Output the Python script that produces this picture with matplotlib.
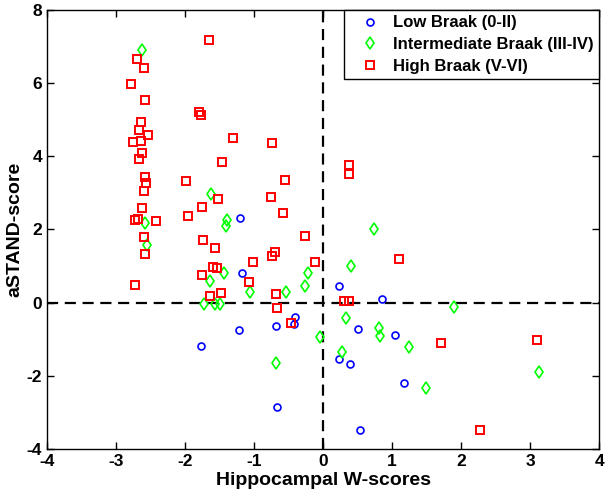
import matplotlib
matplotlib.use('Agg')
import matplotlib.pyplot as plt

plt.rcParams['font.family'] = ['Liberation Sans', 'DejaVu Sans']
plt.rcParams['axes.unicode_minus'] = False

# Low Braak (0-II)
low_x = [-1.20, -1.18, 0.23, 0.86, -0.41, -0.42, -1.22, -0.68, 0.51, 1.04,
         -1.77, 0.23, 0.39, 1.17, -0.67, 0.53]
low_y = [2.30, 0.81, 0.46, 0.10, -0.38, -0.58, -0.74, -0.65, -0.73, -0.89,
         -1.19, -1.55, -1.68, -2.19, -2.86, -3.48]

# Intermediate Braak (III-IV)
mid_x = [-2.63, -2.58, -2.55, -1.62, -1.39, -1.41, 0.74, -1.43, -0.22, -1.64,
         0.41, -0.26, -1.06, -0.54, -1.73, -1.56, -1.49, 0.33, 0.81, 0.83,
         -0.05, 0.28, -0.68, 1.25, 3.13, 1.49, 1.90]
mid_y = [6.90, 2.17, 1.57, 2.97, 2.26, 2.10, 2.02, 0.82, 0.81, 0.60,
         0.99, 0.45, 0.29, 0.29, -0.04, -0.04, -0.04, -0.41, -0.70, -0.91,
         -0.95, -1.35, -1.64, -1.21, -1.89, -2.32, -0.12]

# High Braak (V-VI)
high_x = [-2.70, -2.59, -2.78, -2.58, -1.65, -1.80, -1.77, -2.64, -2.66, -2.54,
          -2.75, -2.64, -2.62, -2.66, -1.30, -0.74, -1.47, 0.37, 0.37, -2.58,
          -2.56, -2.59, -1.99, -0.55, -1.52, -0.75, -2.63, -1.75, -1.95, -0.58,
          -2.72, -2.68, -2.42, -0.26, -2.60, -1.74, -1.57, -0.69, -0.74, -2.58,
          1.10, -1.02, -0.11, -1.60, -1.53, -2.72, -1.75, -1.08, -1.48, -1.64,
          -0.68, 0.31, 0.38, -0.66, -0.47, 1.71, 3.10, 2.28]
high_y = [6.66, 6.41, 5.97, 5.54, 7.17, 5.20, 5.14, 4.94, 4.71, 4.58,
          4.38, 4.41, 4.08, 3.93, 4.51, 4.35, 3.85, 3.75, 3.51, 3.44,
          3.26, 3.04, 3.32, 3.34, 2.84, 2.90, 2.60, 2.61, 2.37, 2.44,
          2.26, 2.28, 2.24, 1.81, 1.80, 1.71, 1.50, 1.39, 1.28, 1.34,
          1.18, 1.11, 1.11, 0.98, 0.94, 0.48, 0.76, 0.56, 0.26, 0.18,
          0.23, 0.05, 0.05, -0.14, -0.56, -1.10, -1.03, -3.47]

fig = plt.figure(figsize=(6.07, 4.97), dpi=100)
ax = fig.add_axes([0.0774, 0.0966, 0.9096, 0.8834])

ax.plot(low_x, low_y, 'o', color='#0000ff', mfc='none', ms=5, mew=1.2,
        label='Low Braak (0-II)')
ax.plot(mid_x, mid_y, 'd', color='#00ff00', mfc='none', ms=6, mew=1.2,
        label='Intermediate Braak (III-IV)')
ax.plot(high_x, high_y, 's', color='#ff0000', mfc='none', ms=5.5, mew=1.4,
        label='High Braak (V-VI)')

ax.axhline(0, color='k', ls='--', lw=1.6, dashes=(5, 3), zorder=0)
ax.axvline(0, color='k', ls='--', lw=1.6, dashes=(5, 3), zorder=0)

ax.set_xlim(-4, 4)
ax.set_ylim(-4, 8)
ax.set_xticks(range(-4, 5))
ax.set_yticks(range(-4, 9, 2))
ax.tick_params(direction='in', top=True, right=True, length=5, width=1,
               labelsize=12.5)
for lab in ax.get_xticklabels() + ax.get_yticklabels():
    lab.set_fontweight('bold')
for s in ax.spines.values():
    s.set_linewidth(1)

ax.set_xlabel('Hippocampal W-scores', fontsize=14, fontweight='bold', labelpad=2)
ax.set_ylabel('aSTAND-score', fontsize=14, fontweight='bold', labelpad=2)

leg = ax.legend(loc='upper right', bbox_to_anchor=(1.0, 1.0), fancybox=False,
                edgecolor='k', framealpha=1, borderaxespad=0, handletextpad=0.2,
                handlelength=2.4, labelspacing=0.4, borderpad=0.33,
                prop={'weight': 'bold', 'size': 12})
leg.get_frame().set_linewidth(1)

fig.savefig('out.png', dpi=100)
